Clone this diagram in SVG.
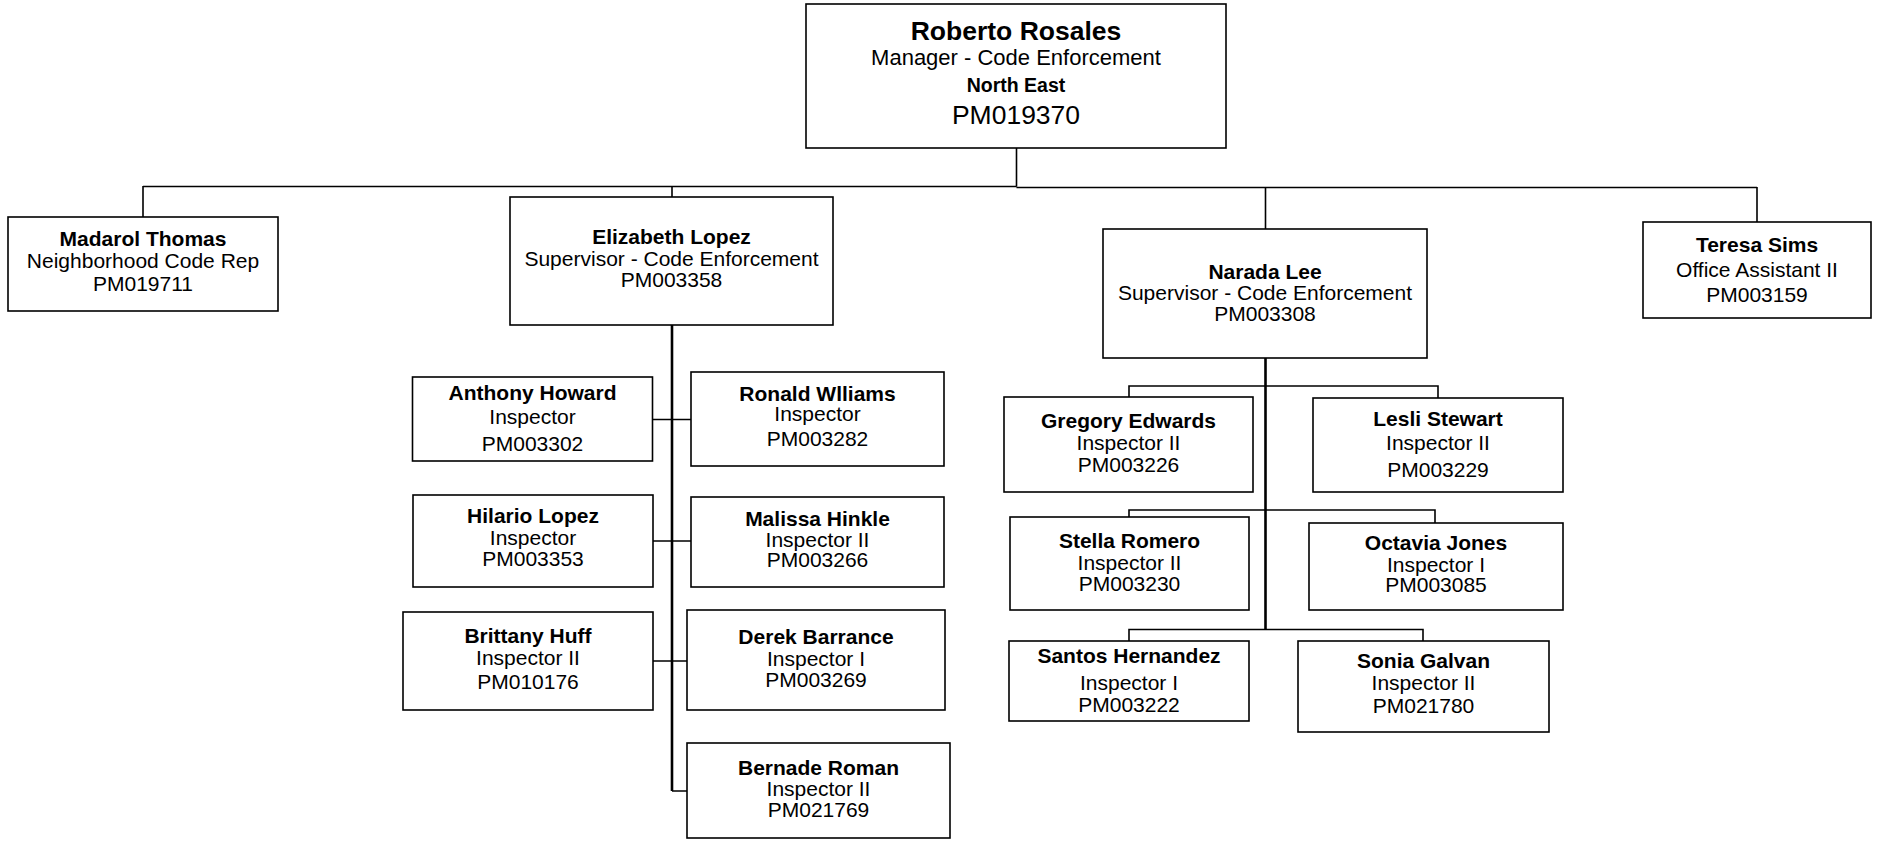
<svg xmlns="http://www.w3.org/2000/svg" width="1881" height="841" viewBox="0 0 1881 841">
<style>
.box{fill:#fff;stroke:#000;stroke-width:1.6}
.c{fill:none;stroke:#000;stroke-width:1.6}
.trunk{fill:none;stroke:#000;stroke-width:2.6}
text{font-family:"Liberation Sans",Arial,sans-serif;text-anchor:middle;fill:#000;font-size:21px}
.b{font-weight:bold}
</style>
<rect width="1881" height="841" fill="#fff"/>
<g id="connectors">
<path class="c" d="M1016.5,148V186.5M143,186.5H1016.5M1016.5,187.5H1757M143,186V217M672,186V197M1265.5,187.5V229M1757,187V222"/>
<path class="trunk" d="M672,325V791M1265.5,358V629.5"/>
<path class="c" d="M653,419.5H691M653,541H691M653,661H687M672,791H687"/>
<path class="c" d="M1129,397V386H1438V398M1129,517V510H1435V523M1129,641V629.5H1423V641"/>
</g>
<g id="n-roberto"><rect class="box" x="806" y="4" width="420" height="144"/>
<text x="1016" y="40" class="b" style="font-size:26.5px">Roberto Rosales</text>
<text x="1016" y="65" style="font-size:22px">Manager - Code Enforcement</text>
<text x="1016" y="92" class="b" style="font-size:19.5px">North East</text>
<text x="1016" y="124" style="font-size:26.5px">PM019370</text></g>
<g id="n-madarol"><rect class="box" x="8" y="217" width="270" height="94"/>
<text x="143" y="246" class="b">Madarol Thomas</text><text x="143" y="268">Neighborhood Code Rep</text><text x="143" y="291">PM019711</text></g>
<g id="n-elizabeth"><rect class="box" x="510" y="197" width="323" height="128"/>
<text x="671.5" y="244" class="b">Elizabeth Lopez</text><text x="671.5" y="266">Supervisor - Code Enforcement</text><text x="671.5" y="287">PM003358</text></g>
<g id="n-narada"><rect class="box" x="1103" y="229" width="324" height="129"/>
<text x="1265" y="279" class="b">Narada Lee</text><text x="1265" y="300">Supervisor - Code Enforcement</text><text x="1265" y="321">PM003308</text></g>
<g id="n-teresa"><rect class="box" x="1643" y="222" width="228" height="96"/>
<text x="1757" y="252" class="b">Teresa Sims</text><text x="1757" y="277">Office Assistant II</text><text x="1757" y="302">PM003159</text></g>
<g id="n-anthony"><rect class="box" x="412.5" y="377" width="240" height="84"/>
<text x="532.5" y="400" class="b">Anthony Howard</text><text x="532.5" y="424">Inspector</text><text x="532.5" y="451">PM003302</text></g>
<g id="n-ronald"><rect class="box" x="691" y="372" width="253" height="94"/>
<text x="817.5" y="400.5" class="b">Ronald Wlliams</text><text x="817.5" y="421">Inspector</text><text x="817.5" y="446">PM003282</text></g>
<g id="n-hilario"><rect class="box" x="413" y="495" width="240" height="92"/>
<text x="533" y="523" class="b">Hilario Lopez</text><text x="533" y="545">Inspector</text><text x="533" y="566">PM003353</text></g>
<g id="n-malissa"><rect class="box" x="691" y="497" width="253" height="90"/>
<text x="817.5" y="525.5" class="b">Malissa Hinkle</text><text x="817.5" y="546.5">Inspector II</text><text x="817.5" y="567">PM003266</text></g>
<g id="n-brittany"><rect class="box" x="403" y="612" width="250" height="98"/>
<text x="528" y="643" class="b">Brittany Huff</text><text x="528" y="665">Inspector II</text><text x="528" y="689">PM010176</text></g>
<g id="n-derek"><rect class="box" x="687" y="610" width="258" height="100"/>
<text x="816" y="644" class="b">Derek Barrance</text><text x="816" y="666">Inspector I</text><text x="816" y="687">PM003269</text></g>
<g id="n-bernade"><rect class="box" x="687" y="743" width="263" height="95"/>
<text x="818.5" y="775" class="b">Bernade Roman</text><text x="818.5" y="796">Inspector II</text><text x="818.5" y="817">PM021769</text></g>
<g id="n-gregory"><rect class="box" x="1004" y="397" width="249" height="95"/>
<text x="1128.5" y="427.5" class="b">Gregory Edwards</text><text x="1128.5" y="450">Inspector II</text><text x="1128.5" y="472">PM003226</text></g>
<g id="n-lesli"><rect class="box" x="1313" y="398" width="250" height="94"/>
<text x="1438" y="425.5" class="b">Lesli Stewart</text><text x="1438" y="450">Inspector II</text><text x="1438" y="476.5">PM003229</text></g>
<g id="n-stella"><rect class="box" x="1010" y="517" width="239" height="93"/>
<text x="1129.5" y="547.5" class="b">Stella Romero</text><text x="1129.5" y="570">Inspector II</text><text x="1129.5" y="591">PM003230</text></g>
<g id="n-octavia"><rect class="box" x="1309" y="523" width="254" height="87"/>
<text x="1436" y="549.5" class="b">Octavia Jones</text><text x="1436" y="571.5">Inspector I</text><text x="1436" y="592">PM003085</text></g>
<g id="n-santos"><rect class="box" x="1009" y="641" width="240" height="80"/>
<text x="1129" y="663" class="b">Santos Hernandez</text><text x="1129" y="690">Inspector I</text><text x="1129" y="711.5">PM003222</text></g>
<g id="n-sonia"><rect class="box" x="1298" y="641" width="251" height="91"/>
<text x="1423.5" y="667.5" class="b">Sonia Galvan</text><text x="1423.5" y="690">Inspector II</text><text x="1423.5" y="713">PM021780</text></g>
</svg>
